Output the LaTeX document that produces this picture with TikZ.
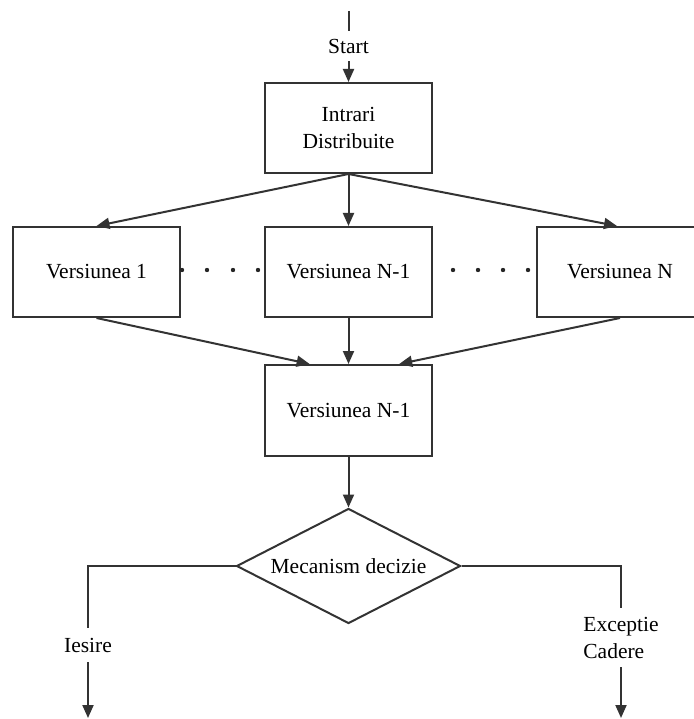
\documentclass[tikz,border=0pt]{standalone}
\usepackage{fontspec}
\setmainfont{Liberation Serif}
\usetikzlibrary{arrows.meta,shapes.geometric,calc}
\begin{document}
\begin{tikzpicture}[x=1pt,y=-1pt,
  line/.style={draw=black!80,line width=2pt},
  arr/.style={line,-{Triangle[length=13pt,width=11pt]}},
  stepbox/.style={draw=black!80,line width=2pt,minimum width=167pt,
    minimum height=90pt,inner sep=0pt,align=center},
  decbox/.style={draw=black!80,line width=2pt,shape=diamond,aspect=1.95,
    inner sep=0pt,minimum width=224pt,minimum height=115pt},
  lbl/.style={inner sep=0pt,align=left},
  dot/.style={fill=black!85},
  font=\fontsize{21.5}{27}\selectfont]
\useasboundingbox (0,0) rectangle (693,719);

% entry
\coordinate (top) at (348.5,11);
\node[lbl,minimum height=30pt] (start) at (348.5,46) {Start};
\node[stepbox] (intr) at (348.5,128) {Intrari\\Distribuite};

% versions (the last box runs past the right margin)
\node[stepbox] (v1)  at (96.5,272)  {Versiunea 1};
\node[stepbox] (vn1) at (348.5,272) {Versiunea N-1};
\node[stepbox,minimum width=200pt] (vn) at (637,272) {};
\node[lbl] (vntext) at (620,272) {Versiunea N};
\coordinate (vnin) at (617,272 |- vn.north);
\coordinate (vnout) at (620,272 |- vn.south);

% voting stage
\node[stepbox,minimum height=91pt] (vlow) at (348.5,410.5) {Versiunea N-1};
\node[decbox] (dec) at (348.5,566) {Mecanism decizie};

% outputs
\node[lbl,minimum height=34pt] (ies) at (88,645) {Iesire};
\node[lbl,minimum height=59pt] (exc) at (621,637.5) {Exceptie\\Cadere};
\coordinate (outL) at (88,718);
\coordinate (outR) at (621,718);

% entry connectors
\draw[line] (top) -- (start.north);
\draw[arr] (start.south) -- (intr.north);

% fan-out
\draw[arr] (intr.south) -- (v1.north);
\draw[arr] (intr.south) -- (vn1.north);
\draw[arr] (intr.south) -- (vnin);

% fan-in
\coordinate (inL) at ($(vlow.north west)!0.27!(vlow.north east)$);
\coordinate (inR) at ($(vlow.north west)!0.80!(vlow.north east)$);
\draw[arr] (v1.south) -- (inL);
\draw[arr] (vn1.south) -- (vlow.north);
\draw[arr] (vnout) -- (inR);
\draw[arr] (vlow.south) -- (dec.north);

% ellipsis dots between the versions
\foreach \x in {182,207,233,258,453,478,503,528}
  \fill[dot] (\x,270) circle (2.2pt);

% decision outcomes
\draw[line] (dec.west) -| (ies.north);
\draw[arr] (ies.south) -- (outL);
\draw[line] (dec.east) -| (exc.north);
\draw[arr] (exc.south) -- (outR);
\end{tikzpicture}
\end{document}
